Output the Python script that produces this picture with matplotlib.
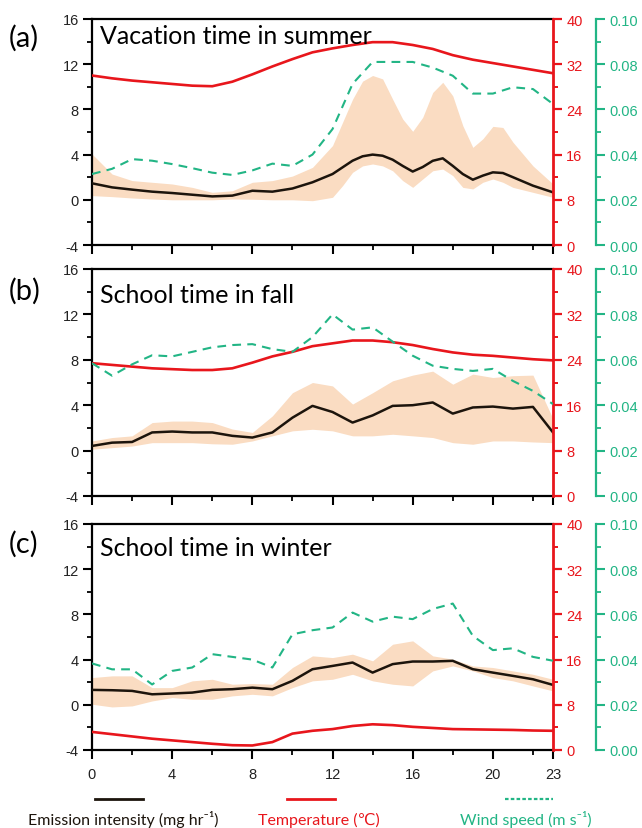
import matplotlib
matplotlib.use('Agg')
import matplotlib.pyplot as plt
from matplotlib.ticker import MultipleLocator, FixedLocator, FormatStrFormatter
from matplotlib.lines import Line2D

plt.rcParams['axes.unicode_minus'] = False

# ---------------- data ----------------
hours = list(range(24))

# Panel (a) vacation time in summer
hours_fine_a = [0, 1, 2, 3, 4, 5, 6, 7, 8, 9, 10, 11, 12, 12.5, 13, 13.5, 14, 14.5, 15, 15.5,
                16, 16.5, 17, 17.5, 18, 18.5, 19, 19.5, 20, 20.5, 21, 22, 23]
emis_a = [1.46, 1.10, 0.90, 0.72, 0.60, 0.45, 0.30, 0.37, 0.80, 0.72, 1.00, 1.55, 2.28, 2.87,
          3.46, 3.85, 4.00, 3.90, 3.55, 3.00, 2.50, 2.90, 3.45, 3.67, 3.00, 2.28, 1.78, 2.14,
          2.43, 2.37, 2.00, 1.25, 0.66]
upper_a = [4.05, 2.28, 1.70, 1.55, 1.40, 1.10, 0.66, 0.80, 1.55, 1.70, 2.10, 2.87, 4.80, 6.85,
           8.90, 10.50, 11.00, 10.70, 8.90, 7.15, 6.06, 7.30, 9.50, 10.40, 9.20, 6.56, 4.64,
           5.40, 6.50, 6.40, 5.10, 3.00, 1.40]
lower_a = [0.37, 0.28, 0.16, 0.07, 0.00, 0.00, 0.00, 0.07, 0.05, 0.00, 0.00, -0.08, 0.22, 1.25,
           2.43, 3.00, 3.17, 3.00, 2.57, 1.70, 1.10, 1.84, 2.57, 2.72, 2.14, 1.10, 0.96, 1.55,
           1.84, 1.55, 1.10, 0.66, 0.22]
temp_a = [30.0, 29.5, 29.1, 28.8, 28.5, 28.2, 28.1, 28.9, 30.2, 31.6, 32.9, 34.1, 34.8, 35.4,
          35.9, 35.9, 35.4, 34.7, 33.6, 32.8, 32.2, 31.6, 31.0, 30.4]
wind_a = [0.0314, 0.0337, 0.0380, 0.0373, 0.0358, 0.0340, 0.0320, 0.0310, 0.0330, 0.0360,
          0.0350, 0.0400, 0.0513, 0.0713, 0.0810, 0.0810, 0.0810, 0.0785, 0.0749, 0.0670,
          0.0670, 0.0698, 0.0690, 0.0624]

# Panel (b) school time in fall
emis_b = [0.41, 0.70, 0.76, 1.60, 1.68, 1.60, 1.60, 1.30, 1.15, 1.60, 2.90, 3.94, 3.40, 2.47,
          3.10, 3.94, 4.00, 4.24, 3.26, 3.80, 3.88, 3.70, 3.85, 1.60]
upper_b = [0.85, 1.15, 1.30, 2.47, 2.60, 2.60, 2.47, 1.90, 1.60, 3.06, 5.10, 6.00, 5.70, 4.10,
           5.10, 6.15, 6.65, 7.00, 5.85, 6.74, 6.44, 6.60, 6.65, 2.80]
lower_b = [0.12, 0.26, 0.40, 0.70, 0.70, 0.70, 0.60, 0.56, 0.85, 1.30, 1.74, 1.88, 1.74, 1.30,
           1.30, 1.44, 1.30, 1.15, 0.70, 0.56, 0.85, 0.85, 0.76, 0.70]
temp_b = [23.4, 23.1, 22.8, 22.5, 22.35, 22.2, 22.2, 22.5, 23.5, 24.6, 25.4, 26.4, 26.9, 27.4,
          27.4, 27.1, 26.6, 25.9, 25.3, 24.9, 24.7, 24.4, 24.1, 23.9]
wind_b = [0.0585, 0.0530, 0.0580, 0.0620, 0.0615, 0.0635, 0.0655, 0.0665, 0.0669, 0.0647,
          0.0635, 0.0700, 0.0800, 0.0733, 0.0743, 0.0680, 0.0618, 0.0574, 0.0560, 0.0551,
          0.0560, 0.0507, 0.0463, 0.0405]

# Panel (c) school time in winter
emis_c = [1.32, 1.29, 1.23, 0.93, 1.00, 1.08, 1.32, 1.38, 1.52, 1.38, 2.12, 3.15, 3.44, 3.74,
          2.85, 3.60, 3.83, 3.83, 3.89, 3.15, 2.85, 2.56, 2.26, 1.76]
upper_c = [2.41, 2.56, 2.56, 1.52, 1.52, 2.12, 2.26, 1.82, 1.88, 1.82, 3.30, 4.33, 4.18, 4.48,
           3.89, 5.36, 5.66, 4.33, 4.04, 3.44, 3.30, 3.00, 2.70, 2.26]
lower_c = [0.05, -0.19, -0.10, 0.34, 0.64, 0.49, 0.49, 0.79, 0.93, 0.79, 1.52, 2.12, 2.26, 2.70,
           2.12, 1.82, 1.67, 3.00, 3.44, 3.00, 2.41, 2.12, 1.67, 1.23]
temp_c = [3.2, 2.8, 2.4, 2.0, 1.7, 1.4, 1.1, 0.85, 0.8, 1.4, 2.9, 3.4, 3.7, 4.25, 4.55, 4.4,
          4.1, 3.9, 3.7, 3.65, 3.6, 3.55, 3.45, 3.4]
wind_c = [0.0383, 0.0357, 0.0357, 0.0290, 0.0350, 0.0365, 0.0424, 0.0412, 0.0400, 0.0365,
          0.0512, 0.0530, 0.0542, 0.0608, 0.0568, 0.0590, 0.0579, 0.0624, 0.0648, 0.0505,
          0.0442, 0.0450, 0.0412, 0.0395]

panel_letters = ['(a)', '(b)', '(c)']
panel_titles = ['Vacation time in summer', 'School time in fall', 'School time in winter']
x_major = [0, 4, 8, 12, 16, 20, 23]
x_minor = [2, 6, 10, 14, 18, 22]
legend_labels = ['Emission intensity (mg hr\u207b\u00b9)', 'Temperature (\u2103)', 'Wind speed (m s\u207b\u00b9)']

# ---------------- style ----------------
RED = '#E8161C'
GREEN = '#22B585'
BAND = '#FADCC2'
BLACK = '#1C140C'
TICKC = '#222222'
TEXTFONT = ['Lato', 'DejaVu Sans']
TICKFONT = ['Liberation Sans', 'DejaVu Sans']

W, H = 642, 829
fig = plt.figure(figsize=(W / 100, H / 100), dpi=100)


def fx(px):
    return px / W


def fy(py):
    return 1 - py / H


AX_L, AX_R, GREEN_X = 92, 553, 596
layout = [(20, 246), (270, 497), (525, 751)]
title_base = [44, 303, 556]
letter_base = [47, 300, 553]

data = [
    (hours_fine_a, emis_a, upper_a, lower_a, temp_a, wind_a),
    (hours, emis_b, upper_b, lower_b, temp_b, wind_b),
    (hours, emis_c, upper_c, lower_c, temp_c, wind_c),
]

for i, ((top, bot), (xe, emis, up, lo, temp, wind)) in enumerate(zip(layout, data)):
    ax = fig.add_axes([fx(AX_L), fy(bot), fx(AX_R) - fx(AX_L), (bot - top) / H])
    ax.fill_between(xe, lo, up, color=BAND, lw=0, zorder=1)
    ax.plot(xe, emis, color=BLACK, lw=1.8, zorder=3, solid_joinstyle='round')
    ax.set_xlim(0, 23)
    ax.set_ylim(-4, 16)
    ax.set_yticks([-4, 0, 4, 8, 12, 16])
    ax.yaxis.set_minor_locator(MultipleLocator(2))
    ax.xaxis.set_major_locator(FixedLocator(x_major))
    ax.xaxis.set_minor_locator(FixedLocator(x_minor))
    for s in ['left', 'top', 'bottom']:
        ax.spines[s].set_linewidth(1.6)
        ax.spines[s].set_color('black')
    ax.spines['right'].set_visible(False)
    ax.tick_params(axis='both', which='major', direction='out', length=6.5, width=1.5,
                   colors='black', labelcolor=TICKC, labelsize=10.5, pad=3)
    ax.tick_params(axis='both', which='minor', direction='out', length=3.5, width=1.3, colors='black')
    ax.tick_params(axis='x', pad=6)
    if i < 2:
        ax.tick_params(axis='x', labelbottom=False)
    for lab in ax.get_xticklabels() + ax.get_yticklabels():
        lab.set_family(TICKFONT)

    axt = ax.twinx()
    axt.plot(hours, temp, color=RED, lw=1.9, zorder=3, solid_joinstyle='round')
    axt.set_ylim(0, 40)
    axt.set_yticks([0, 8, 16, 24, 32, 40])
    axt.yaxis.set_minor_locator(MultipleLocator(4))
    for s in ['left', 'top', 'bottom']:
        axt.spines[s].set_visible(False)
    axt.spines['right'].set_color(RED)
    axt.spines['right'].set_linewidth(2.0)
    axt.tick_params(axis='y', which='major', direction='out', length=6.5, width=1.6,
                    colors=RED, labelsize=10.5, pad=3)
    axt.tick_params(axis='y', which='minor', direction='out', length=3.5, width=1.4, colors=RED)
    for lab in axt.get_yticklabels():
        lab.set_family(TICKFONT)

    axw = ax.twinx()
    axw.plot(hours, wind, color=GREEN, lw=1.5, dashes=(4.2, 3.0), zorder=3)
    axw.set_ylim(0, 0.1)
    axw.set_yticks([0, 0.02, 0.04, 0.06, 0.08, 0.10])
    axw.yaxis.set_major_formatter(FormatStrFormatter('%.2f'))
    axw.yaxis.set_minor_locator(MultipleLocator(0.01))
    for s in ['left', 'top', 'bottom']:
        axw.spines[s].set_visible(False)
    axw.spines['right'].set_position(('axes', (GREEN_X - AX_L) / (AX_R - AX_L)))
    axw.spines['right'].set_color(GREEN)
    axw.spines['right'].set_linewidth(1.6)
    axw.tick_params(axis='y', which='major', direction='out', length=6.5, width=1.5,
                    colors=GREEN, labelsize=10.5, pad=3)
    axw.tick_params(axis='y', which='minor', direction='out', length=3.5, width=1.3, colors=GREEN)
    for lab in axw.get_yticklabels():
        lab.set_family(TICKFONT)

    fig.text(fx(9), fy(letter_base[i]), panel_letters[i], fontsize=21, family=TEXTFONT,
             color='black', va='baseline', ha='left')
    fig.text(fx(100), fy(title_base[i]), panel_titles[i], fontsize=18, family=TEXTFONT,
             color='black', va='baseline', ha='left')

# ---------------- legend ----------------
leg_lines = [(95, 143, BLACK, '-'), (287, 335, RED, '-'), (505, 553, GREEN, ':')]
leg_text_x = [28, 258, 460]
leg_colors = [BLACK, RED, GREEN]
for (x0, x1, c, ls), tx, lab, tc in zip(leg_lines, leg_text_x, legend_labels, leg_colors):
    if ls == ':':
        ln = Line2D([fx(x0), fx(x1)], [fy(800), fy(800)], transform=fig.transFigure,
                    color=c, lw=1.6, dashes=(1.6, 1.0))
    else:
        ln = Line2D([fx(x0), fx(x1)], [fy(800), fy(800)], transform=fig.transFigure,
                    color=c, lw=2.0)
    fig.add_artist(ln)
    fig.text(fx(tx), fy(825), lab, fontsize=11.5, family=TEXTFONT, color=tc,
             va='baseline', ha='left')

fig.savefig('out.png', dpi=100)
